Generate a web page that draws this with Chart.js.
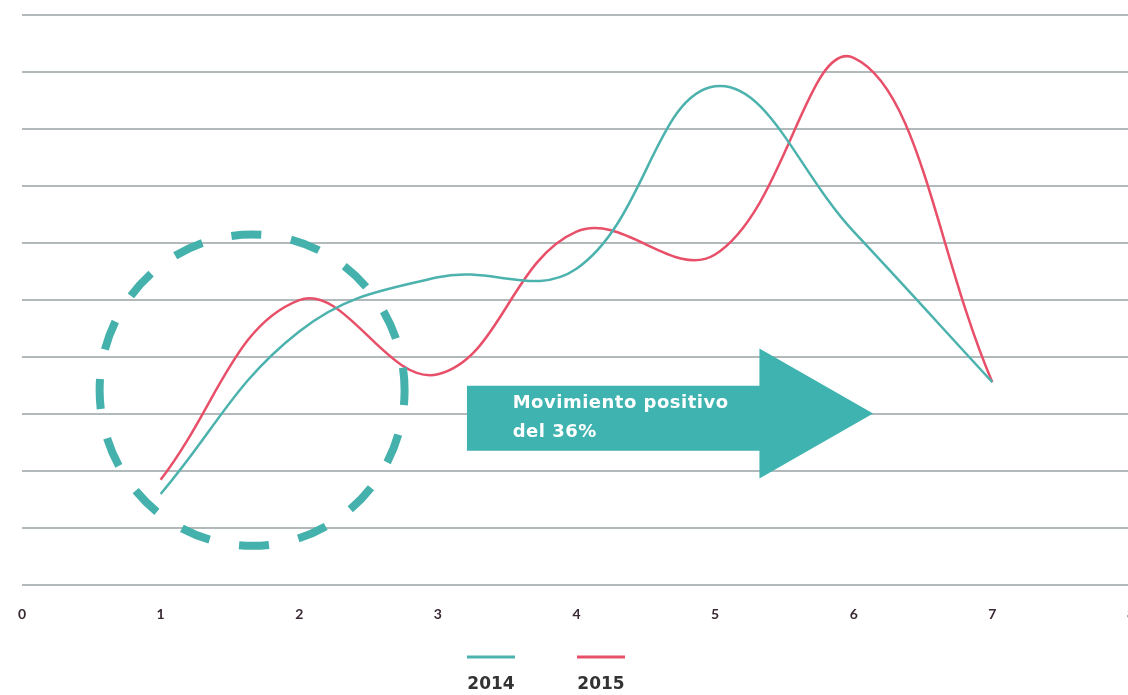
<!DOCTYPE html>
<html>
<head>
<meta charset="utf-8">
<script src="https://cdn.jsdelivr.net/npm/chart.js@4"></script>
<style>
  html, body { margin: 0; padding: 0; background: #fff; overflow: hidden; }
  #wrap { position: relative; width: 1148px; height: 695px; }
</style>
</head>
<body>
<div id="wrap"><canvas id="chart"></canvas></div>
<script>
// values
var xValues = [1, 2, 3, 4, 5, 6, 7];
var years = ['2014', '2015'];
var values2014 = [1.6, 4.45, 5.4, 5.55, 8.75, 6.2, 3.56];
var values2015 = [1.85, 5.0, 3.7, 6.2, 5.8, 9.25, 3.56];
var xTicks = [0, 1, 2, 3, 4, 5, 6, 7, 8];
var noteLines = ['Movimiento positivo', 'del 36%'];

var teal = '#4cb2ad';
var red = '#e8506a';

function toPoints(vals) {
  var pts = [];
  for (var i = 0; i < vals.length; i++) {
    pts.push({x: xValues[i], y: vals[i]});
  }
  return pts;
}

// dashed circle, arrow and note, placed in data units
var annotations = {
  id: 'annotations',
  afterDatasetsDraw: function(chart) {
    var ctx = chart.ctx;
    var xs = chart.scales.x, ys = chart.scales.y;
    ctx.save();

    // dashed circle
    var cx = xs.getPixelForValue(1.66), cy = ys.getPixelForValue(3.42);
    var rx = xs.getPixelForValue(1.66 + 1.1) - cx;
    var ry = cy - ys.getPixelForValue(3.42 + 2.73);
    ctx.beginPath();
    ctx.ellipse(cx, cy, rx, ry, 0, 0, Math.PI * 2);
    ctx.setLineDash([30, 30]);
    ctx.lineDashOffset = 15;
    ctx.lineWidth = 8;
    ctx.strokeStyle = '#45b1ac';
    ctx.stroke();
    ctx.setLineDash([]);

    // arrow
    var x0 = xs.getPixelForValue(3.21), x1 = xs.getPixelForValue(5.32), xt = xs.getPixelForValue(6.14);
    var yTop = ys.getPixelForValue(3.5), yBot = ys.getPixelForValue(2.36);
    var hTop = ys.getPixelForValue(4.15), hBot = ys.getPixelForValue(1.87), yMid = ys.getPixelForValue(3.01);
    ctx.beginPath();
    ctx.moveTo(x0, yTop);
    ctx.lineTo(x1, yTop);
    ctx.lineTo(x1, hTop);
    ctx.lineTo(xt, yMid);
    ctx.lineTo(x1, hBot);
    ctx.lineTo(x1, yBot);
    ctx.lineTo(x0, yBot);
    ctx.closePath();
    ctx.fillStyle = '#3fb3b0';
    ctx.fill();

    ctx.fillStyle = '#ffffff';
    ctx.font = 'bold 18px "DejaVu Sans"';
    ctx.letterSpacing = '0.5px';
    ctx.textBaseline = 'middle';
    ctx.textAlign = 'left';
    var tx = xs.getPixelForValue(3.54);
    ctx.fillText(noteLines[0], tx, ys.getPixelForValue(3.19));
    ctx.fillText(noteLines[1], tx, ys.getPixelForValue(2.68));
    ctx.restore();
  }
};

// legend: short line above each year
var bottomLegend = {
  id: 'bottomLegend',
  afterDraw: function(chart) {
    var ctx = chart.ctx;
    var mid = 546;
    var offs = [-55, 55];
    ctx.save();
    chart.data.datasets.forEach(function(ds, i) {
      var c = mid + offs[i];
      ctx.beginPath();
      ctx.moveTo(c - 24, 657);
      ctx.lineTo(c + 24, 657);
      ctx.lineWidth = 3;
      ctx.strokeStyle = ds.borderColor;
      ctx.stroke();
      ctx.fillStyle = '#333333';
      ctx.font = 'bold 17px "DejaVu Sans"';
      ctx.textAlign = 'center';
      ctx.textBaseline = 'middle';
      ctx.fillText(ds.label, c, 685);
    });
    ctx.restore();
  }
};

new Chart(document.getElementById('chart'), {
  type: 'line',
  data: {
    datasets: [
      {label: years[0], data: toPoints(values2014), borderColor: teal, borderWidth: 2.5,
       pointRadius: 0, tension: 0.4, fill: false},
      {label: years[1], data: toPoints(values2015), borderColor: red, borderWidth: 2.5,
       pointRadius: 0, tension: 0.4, fill: false}
    ]
  },
  options: {
    responsive: true,
    maintainAspectRatio: false,
    animation: false,
    layout: {padding: {left: 22, right: 0, top: 15, bottom: 59}},
    plugins: {legend: {display: false}, tooltip: {enabled: false}},
    scales: {
      x: {
        type: 'linear', min: 0, max: 8,
        afterBuildTicks: function(axis) { axis.ticks = xTicks.map(function(v) { return {value: v}; }); },
        grid: {display: false},
        border: {display: false},
        ticks: {padding: 13, color: '#3a2833', font: {size: 14, weight: 'bold', family: 'Lato'}}
      },
      y: {
        min: 0, max: 10,
        ticks: {display: false, stepSize: 1},
        grid: {color: '#b1b9bb', lineWidth: 2, drawTicks: false},
        border: {display: false}
      }
    }
  },
  plugins: [annotations, bottomLegend]
});
</script>
</body>
</html>
